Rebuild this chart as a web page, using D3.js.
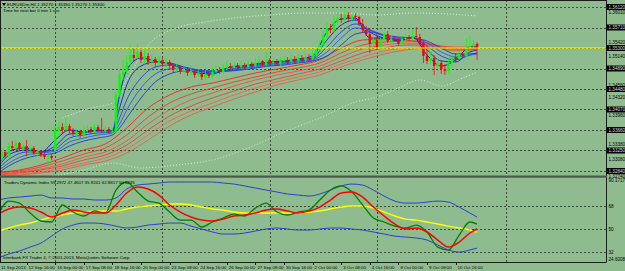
<!DOCTYPE html>
<html><head><meta charset="utf-8">
<script src="https://cdn.jsdelivr.net/npm/d3@7"></script>
<style>
body{margin:0;background:#8fbc8f;}
svg{display:block;font-family:"Liberation Sans",Arial,sans-serif;}
</style></head><body>
<svg id="chart" width="625" height="271"></svg>
<script>
// EURUSDm H4, bar 0 = 11 Sep 2013 08:00
var open = [1.3286,1.3306,1.3322,1.3314,1.3334,1.3330,1.3340,1.3328,1.3334,1.3326,
 1.3330,1.3320,1.3324,1.3316,1.3312,1.3314,1.3326,1.3366,1.3372,1.3366,
 1.3374,1.3364,1.3358,1.3362,1.3356,1.3366,1.3368,1.3362,1.3372,1.3366,
 1.3364,1.3368,1.3362,1.3364,1.3436,1.3476,1.3482,1.3502,1.3516,1.3510,
 1.3522,1.3506,1.3514,1.3502,1.3508,1.3500,1.3506,1.3498,1.3502,1.3494,
 1.3486,1.3490,1.3484,1.3488,1.3480,1.3484,1.3476,1.3480,1.3472,1.3478,
 1.3474,1.3482,1.3486,1.3482,1.3490,1.3494,1.3490,1.3496,1.3492,1.3496,
 1.3492,1.3498,1.3494,1.3500,1.3504,1.3496,1.3506,1.3500,1.3502,1.3498,
 1.3504,1.3506,1.3502,1.3508,1.3504,1.3510,1.3506,1.3512,1.3508,1.3516,
 1.3526,1.3536,1.3556,1.3570,1.3566,1.3582,1.3590,1.3586,1.3596,1.3588,
 1.3594,1.3592,1.3578,1.3566,1.3558,1.3538,1.3546,1.3530,1.3546,1.3558,
 1.3544,1.3548,1.3546,1.3538,1.3548,1.3550,1.3548,1.3554,1.3552,1.3540,
 1.3514,1.3504,1.3510,1.3494,1.3500,1.3488,1.3484,1.3500,1.3512,1.3508,
 1.3518,1.3514,1.3530,1.3534,1.3538];
var high = [1.3310,1.3330,1.3326,1.3340,1.3344,1.3346,1.3342,1.3338,1.3346,1.3336,
 1.3334,1.3328,1.3326,1.3322,1.3320,1.3318,1.3374,1.3382,1.3380,1.3392,
 1.3378,1.3370,1.3368,1.3366,1.3374,1.3376,1.3372,1.3378,1.3376,1.3390,
 1.3374,1.3372,1.3370,1.3442,1.3486,1.3506,1.3516,1.3536,1.3530,1.3538,
 1.3526,1.3530,1.3520,1.3516,1.3512,1.3514,1.3510,1.3510,1.3506,1.3500,
 1.3498,1.3494,1.3496,1.3492,1.3494,1.3488,1.3486,1.3484,1.3486,1.3482,
 1.3490,1.3494,1.3492,1.3498,1.3504,1.3500,1.3502,1.3500,1.3504,1.3500,
 1.3506,1.3502,1.3510,1.3514,1.3506,1.3522,1.3510,1.3510,1.3508,1.3512,
 1.3514,1.3512,1.3516,1.3514,1.3518,1.3516,1.3520,1.3518,1.3526,1.3534,
 1.3546,1.3566,1.3582,1.3578,1.3594,1.3602,1.3598,1.3606,1.3602,1.3598,
 1.3600,1.3594,1.3588,1.3574,1.3570,1.3552,1.3560,1.3550,1.3562,1.3564,
 1.3554,1.3554,1.3552,1.3554,1.3558,1.3556,1.3566,1.3572,1.3558,1.3546,
 1.3534,1.3522,1.3516,1.3510,1.3506,1.3498,1.3506,1.3518,1.3520,1.3524,
 1.3522,1.3550,1.3554,1.3546,1.3542];
var low = [1.3282,1.3300,1.3310,1.3310,1.3324,1.3326,1.3324,1.3322,1.3314,1.3310,
 1.3316,1.3314,1.3312,1.3308,1.3296,1.3306,1.3322,1.3356,1.3360,1.3362,
 1.3360,1.3354,1.3352,1.3350,1.3354,1.3360,1.3358,1.3360,1.3362,1.3360,
 1.3360,1.3358,1.3358,1.3360,1.3432,1.3466,1.3478,1.3494,1.3502,1.3506,
 1.3500,1.3500,1.3496,1.3494,1.3492,1.3494,1.3492,1.3492,1.3488,1.3480,
 1.3482,1.3478,1.3480,1.3474,1.3476,1.3470,1.3472,1.3466,1.3468,1.3470,
 1.3470,1.3476,1.3478,1.3480,1.3486,1.3486,1.3486,1.3488,1.3488,1.3486,
 1.3488,1.3490,1.3492,1.3494,1.3492,1.3492,1.3494,1.3496,1.3494,1.3494,
 1.3500,1.3498,1.3498,1.3500,1.3500,1.3502,1.3502,1.3504,1.3506,1.3512,
 1.3522,1.3532,1.3550,1.3560,1.3562,1.3576,1.3580,1.3582,1.3582,1.3582,
 1.3584,1.3574,1.3560,1.3554,1.3520,1.3534,1.3526,1.3528,1.3542,1.3540,
 1.3540,1.3542,1.3534,1.3536,1.3544,1.3544,1.3544,1.3546,1.3536,1.3500,
 1.3498,1.3498,1.3476,1.3490,1.3478,1.3476,1.3480,1.3494,1.3502,1.3506,
 1.3510,1.3512,1.3524,1.3530,1.3506];
var close = [1.3306,1.3322,1.3314,1.3334,1.3330,1.3340,1.3328,1.3334,1.3326,1.3330,
 1.3320,1.3324,1.3316,1.3312,1.3314,1.3310,1.3366,1.3372,1.3366,1.3374,
 1.3364,1.3358,1.3362,1.3356,1.3366,1.3368,1.3362,1.3372,1.3366,1.3364,
 1.3368,1.3362,1.3364,1.3436,1.3476,1.3482,1.3502,1.3516,1.3510,1.3522,
 1.3506,1.3514,1.3502,1.3508,1.3500,1.3506,1.3498,1.3502,1.3494,1.3486,
 1.3490,1.3484,1.3488,1.3480,1.3484,1.3476,1.3480,1.3472,1.3478,1.3474,
 1.3482,1.3486,1.3482,1.3490,1.3494,1.3490,1.3496,1.3492,1.3496,1.3492,
 1.3498,1.3494,1.3500,1.3504,1.3496,1.3506,1.3500,1.3502,1.3498,1.3504,
 1.3506,1.3502,1.3508,1.3504,1.3510,1.3506,1.3512,1.3508,1.3516,1.3526,
 1.3536,1.3556,1.3570,1.3566,1.3582,1.3590,1.3586,1.3596,1.3588,1.3594,
 1.3592,1.3578,1.3566,1.3558,1.3538,1.3546,1.3530,1.3546,1.3558,1.3544,
 1.3548,1.3546,1.3538,1.3548,1.3550,1.3548,1.3554,1.3552,1.3540,1.3514,
 1.3504,1.3510,1.3494,1.3500,1.3488,1.3484,1.3500,1.3512,1.3508,1.3518,
 1.3514,1.3530,1.3534,1.3538,1.3530];
var bidPrice = 1.3530;

// fast moving averages (blue), read at these bars
var blueBars = [0,4,8,12,16,20,24,28,32,34,36,40,44,48,52,56,60,64,68,72,76,80,84,88,92,96,100,104,108,112,116,120,124,128,132,134];
var blue1 = [1.3296,1.3326,1.3330,1.3322,1.3346,1.3366,1.3362,1.3366,1.3364,1.3436,1.3486,1.3510,1.3504,1.3498,1.3488,1.3480,1.3478,1.3490,1.3494,1.3498,1.3502,1.3504,1.3508,1.3514,1.3562,1.3588,1.3590,1.3550,1.3550,1.3544,1.3552,1.3516,1.3494,1.3506,1.3532,1.3532];
var blue2 = [1.3292,1.3320,1.3326,1.3322,1.3334,1.3358,1.3360,1.3364,1.3364,1.3410,1.3456,1.3494,1.3502,1.3500,1.3492,1.3484,1.3480,1.3486,1.3492,1.3496,1.3500,1.3502,1.3506,1.3510,1.3546,1.3576,1.3586,1.3562,1.3550,1.3546,1.3550,1.3526,1.3504,1.3502,1.3522,1.3526];
var blue3 = [1.3288,1.3312,1.3322,1.3322,1.3328,1.3350,1.3356,1.3360,1.3362,1.3390,1.3426,1.3470,1.3492,1.3496,1.3492,1.3486,1.3482,1.3484,1.3490,1.3494,1.3498,1.3500,1.3504,1.3508,1.3532,1.3562,1.3578,1.3566,1.3554,1.3548,1.3550,1.3534,1.3514,1.3506,1.3516,1.3520];
var blue4 = [1.3284,1.3304,1.3316,1.3320,1.3324,1.3342,1.3350,1.3356,1.3360,1.3378,1.3406,1.3450,1.3478,1.3488,1.3490,1.3486,1.3484,1.3484,1.3488,1.3492,1.3496,1.3498,1.3502,1.3506,1.3522,1.3550,1.3570,1.3566,1.3556,1.3550,1.3550,1.3540,1.3522,1.3512,1.3516,1.3518];
var blue5 = [1.3280,1.3298,1.3310,1.3316,1.3320,1.3334,1.3344,1.3350,1.3356,1.3370,1.3390,1.3430,1.3462,1.3478,1.3484,1.3484,1.3484,1.3484,1.3486,1.3490,1.3494,1.3496,1.3500,1.3504,1.3514,1.3536,1.3558,1.3562,1.3556,1.3552,1.3550,1.3544,1.3530,1.3518,1.3518,1.3520];

// slow moving averages (red)
var redBars = [0,6,12,18,24,30,36,42,48,54,60,66,72,78,84,90,96,102,108,114,120,126,132,134];
var red1 = [1.3282,1.3286,1.3296,1.3310,1.3326,1.3338,1.3370,1.3410,1.3436,1.3452,1.3460,1.3470,1.3480,1.3488,1.3496,1.3506,1.3530,1.3546,1.3548,1.3546,1.3540,1.3526,1.3526,1.3528];
var red2 = [1.3280,1.3284,1.3292,1.3304,1.3318,1.3330,1.3356,1.3392,1.3420,1.3438,1.3450,1.3462,1.3472,1.3482,1.3490,1.3500,1.3520,1.3536,1.3542,1.3544,1.3540,1.3530,1.3528,1.3530];
var red3 = [1.3278,1.3282,1.3288,1.3298,1.3312,1.3322,1.3344,1.3378,1.3406,1.3426,1.3440,1.3454,1.3466,1.3476,1.3484,1.3494,1.3512,1.3528,1.3536,1.3540,1.3538,1.3532,1.3530,1.3530];
var red4 = [1.3276,1.3280,1.3286,1.3294,1.3306,1.3316,1.3336,1.3366,1.3394,1.3414,1.3430,1.3444,1.3458,1.3468,1.3478,1.3488,1.3504,1.3520,1.3530,1.3536,1.3536,1.3532,1.3530,1.3532];
var red5 = [1.3274,1.3278,1.3282,1.3290,1.3300,1.3310,1.3328,1.3356,1.3384,1.3404,1.3420,1.3436,1.3450,1.3462,1.3472,1.3482,1.3498,1.3512,1.3524,1.3530,1.3532,1.3532,1.3532,1.3532];
var red6 = [1.3272,1.3276,1.3280,1.3286,1.3296,1.3304,1.3320,1.3346,1.3374,1.3396,1.3412,1.3428,1.3442,1.3456,1.3466,1.3476,1.3492,1.3506,1.3518,1.3526,1.3530,1.3530,1.3532,1.3532];

// dotted bands
var upperBars = [18,26,32,36,42,50,58,66,76,86,96,106,116,126,134];
var upperBand = [1.3390,1.3410,1.3420,1.3466,1.3536,1.3570,1.3582,1.3590,1.3596,1.3600,1.3600,1.3596,1.3600,1.3598,1.3594];
var lowerBars = [16,24,32,40,50,60,70,80,90,100,106,112,118,124,130,134];
var lowerBand = [1.3274,1.3286,1.3300,1.3290,1.3296,1.3306,1.3330,1.3362,1.3390,1.3422,1.3432,1.3450,1.3466,1.3454,1.3470,1.3482];

// Traders Dynamic Index
var tdiBars = [0,3,6,9,12,15,18,21,24,27,30,33,36,39,42,45,48,51,54,57,60,63,66,69,72,75,78,81,84,87,90,93,96,99,102,105,108,111,114,117,120,123,126,129,132,134];
var tdiPrice = [61.0,71.9,70.3,62.5,56.3,55.5,68.8,63.3,60.2,64.1,62.5,80.5,86.8,79.0,71.9,70.3,63.3,57.0,57.0,51.6,55.5,58.6,61.7,60.2,66.4,70.3,63.3,61.0,63.3,64.9,72.7,80.5,83.7,79.0,68.8,58.6,55.5,52.3,50.8,53.1,47.7,35.9,33.6,45.3,55.5,53.9];
var tdiSignal = [61.7,65.7,67.2,66.4,63.3,59.4,62.5,64.9,63.3,62.5,62.5,68.8,78.2,82.9,81.3,76.6,68.8,63.3,59.4,57.0,56.3,57.8,60.2,61.0,62.5,64.9,65.7,64.1,62.5,64.1,67.2,72.7,78.2,79.0,75.0,67.2,60.2,53.9,50.0,50.8,47.7,41.4,35.9,39.8,46.9,50.0];
var tdiBase = [48.4,50.8,53.1,54.7,57.0,59.4,61.0,62.5,63.3,64.1,64.1,64.1,65.7,67.2,68.0,68.8,69.6,69.6,68.8,67.2,65.7,64.9,63.3,62.5,62.5,62.5,62.5,62.5,62.5,63.3,64.1,65.7,67.2,68.0,68.0,66.4,63.3,60.2,57.8,57.0,55.5,53.9,52.3,50.8,49.2,47.7];
var tdiUpper = [72.7,74.3,75.0,75.8,76.6,74.3,74.3,73.5,73.5,72.7,72.7,74.3,81.3,84.4,85.2,86.0,86.8,86.8,86.8,86.8,86.8,86.0,85.2,83.7,82.1,80.5,79.0,77.4,76.6,75.8,77.4,80.5,83.7,85.2,84.4,80.5,75.8,71.9,70.3,70.3,71.1,71.9,71.1,67.2,62.5,59.4];
var tdiLower = [27.3,30.4,32.8,35.9,39.0,44.5,50.0,53.1,54.7,54.7,53.9,52.3,50.8,51.6,53.1,53.9,54.7,54.7,52.3,50.0,47.7,46.1,46.1,46.9,48.4,50.0,50.8,50.0,49.2,49.2,50.0,50.8,50.8,50.0,49.2,47.7,46.1,44.5,43.7,43.0,41.4,37.5,33.6,32.0,33.6,35.1];
var tdiLevels = [68, 50, 32];
var tdiRange = [24.6008, 90.1717];

// axes
var gridPrices = [1.3612,1.3571,1.3530,1.3489,1.3448,1.3407,1.3366,1.3325,1.3284];
var sidePrices = [1.3601,1.3542,1.3514,1.3456,1.3432,1.3396,1.3338,1.3308,1.3274];
var weekBars = [16,46,76,106,142];
var tickBars = [0,8,16,24,32,40,48,56,64,72,80,88,96,104,112,120,128];
var tickLabels = ["11 Sep 2013","12 Sep 16:00","16 Sep 00:00","17 Sep 08:00","18 Sep 16:00","20 Sep 00:00","23 Sep 08:00","24 Sep 16:00","26 Sep 00:00","27 Sep 08:00","30 Sep 16:00","2 Oct 00:00","3 Oct 08:00","4 Oct 16:00","8 Oct 00:00","9 Oct 08:00","10 Oct 16:00"];

var W = 625, H = 271, plotR = 606;
var mainBot = 176, indTop = 178, indBot = 262;

var svg = d3.select("#chart");
svg.append("rect").attr("width", W).attr("height", H).attr("fill", "#8fbc8f");

var x = d3.scaleLinear().domain([0, 134]).range([-2, -2 + 134 * 3.575]);
var y = d3.scaleLinear().domain([1.3626, 1.3274]).range([0, mainBot]);
var yi = d3.scaleLinear().domain(tdiRange).range([261.5, 177.7]);

var defs = svg.append("defs");
defs.append("clipPath").attr("id", "clipMain").append("rect")
  .attr("x", 0).attr("y", 0).attr("width", plotR).attr("height", mainBot);
defs.append("clipPath").attr("id", "clipInd").append("rect")
  .attr("x", 0).attr("y", indTop).attr("width", plotR).attr("height", indBot - indTop);

var gridCol = "#3b4d3b";
var main = svg.append("g").attr("clip-path", "url(#clipMain)");
var ind = svg.append("g").attr("clip-path", "url(#clipInd)");

// grid
main.selectAll(".hg").data(gridPrices).enter().append("line")
  .attr("x1", 0).attr("x2", plotR)
  .attr("y1", function(d) { return Math.round(y(d)) + 0.5; })
  .attr("y2", function(d) { return Math.round(y(d)) + 0.5; })
  .attr("stroke", gridCol).attr("stroke-dasharray", "2,2");
[main, ind].forEach(function(g) {
  g.selectAll(".vg").data(weekBars).enter().append("line")
    .attr("x1", function(d) { return Math.round(x(d)) + 0.5; })
    .attr("x2", function(d) { return Math.round(x(d)) + 0.5; })
    .attr("y1", 0).attr("y2", indBot)
    .attr("stroke", gridCol).attr("stroke-dasharray", "2,2");
});
ind.selectAll(".ig").data(tdiLevels).enter().append("line")
  .attr("x1", 0).attr("x2", plotR)
  .attr("y1", function(d) { return Math.round(yi(d)) + 0.5; })
  .attr("y2", function(d) { return Math.round(yi(d)) + 0.5; })
  .attr("stroke", gridCol).attr("stroke-dasharray", "2,2");

function pts(b, v) { return b.map(function(d, k) { return [d, v[k]]; }); }
var pline = d3.line().x(function(d) { return x(d[0]); }).y(function(d) { return y(d[1]); }).curve(d3.curveMonotoneX);
var iline = d3.line().x(function(d) { return x(d[0]); }).y(function(d) { return yi(d[1]); }).curve(d3.curveMonotoneX);

// dotted bands
[upperBand, lowerBand].forEach(function(v, k) {
  main.append("path").attr("d", pline(pts(k ? lowerBars : upperBars, v)))
    .attr("fill", "none").attr("stroke", "#e6eee6").attr("stroke-width", 0.9)
    .attr("stroke-dasharray", "1,2");
});

// red bundle
var redCols = ["#ff2020", "#f03a2a", "#ff4a3a", "#e84040", "#ff5a48", "#e85a50"];
[red1, red2, red3, red4, red5, red6].forEach(function(v, k) {
  main.append("path").attr("d", pline(pts(redBars, v)))
    .attr("fill", "none").attr("stroke", redCols[k]).attr("stroke-width", 0.9);
});
// blue bundle
var blueCols = ["#0000ee", "#1020e0", "#2040f0", "#3050ff", "#1a3ad8"];
[blue1, blue2, blue3, blue4, blue5].forEach(function(v, k) {
  main.append("path").attr("d", pline(pts(blueBars, v)))
    .attr("fill", "none").attr("stroke", blueCols[k]).attr("stroke-width", 0.9);
});

// candles
var bars = open.map(function(o, i) { return { i: i, o: o, h: high[i], l: low[i], c: close[i] }; });
var cg = main.selectAll(".bar").data(bars).enter().append("g");
cg.append("line")
  .attr("x1", function(d) { return x(d.i); }).attr("x2", function(d) { return x(d.i); })
  .attr("y1", function(d) { return y(d.h); }).attr("y2", function(d) { return y(d.l); })
  .attr("stroke", function(d) { return d.c >= d.o ? "#00ff00" : "#ff0000"; })
  .attr("stroke-width", 0.8);
cg.append("rect")
  .attr("x", function(d) { return x(d.i) - 1.2; }).attr("width", 2.4)
  .attr("y", function(d) { return y(Math.max(d.o, d.c)); })
  .attr("height", function(d) { return Math.max(1, Math.abs(y(d.o) - y(d.c))); })
  .attr("fill", function(d) { return d.c >= d.o ? "#00ff00" : "#ff0000"; });

// bid line
main.append("line").attr("x1", 0).attr("x2", plotR)
  .attr("y1", y(bidPrice)).attr("y2", y(bidPrice))
  .attr("stroke", "#ffff00").attr("stroke-width", 1);

// TDI
[[tdiUpper, "#2b3fd0", 1], [tdiLower, "#2b3fd0", 1], [tdiBase, "#ffff00", 1.4],
 [tdiPrice, "#008000", 1.3], [tdiSignal, "#ff0000", 1.5]].forEach(function(s) {
  ind.append("path").attr("d", iline(pts(tdiBars, s[0])))
    .attr("fill", "none").attr("stroke", s[1]).attr("stroke-width", s[2]);
});

// frames
var frame = "#1c1c1c";
svg.append("line").attr("x1", 0).attr("x2", plotR + 0.5).attr("y1", 0.5).attr("y2", 0.5).attr("stroke", frame);
svg.append("line").attr("x1", 0.5).attr("x2", 0.5).attr("y1", 0).attr("y2", indBot).attr("stroke", frame);
svg.append("line").attr("x1", plotR + 0.5).attr("x2", plotR + 0.5).attr("y1", 0).attr("y2", indBot).attr("stroke", frame);
svg.append("rect").attr("x", 0).attr("y", mainBot - 0.5).attr("width", plotR + 1).attr("height", 2.2).attr("fill", "#4a5a4a");
svg.append("line").attr("x1", 0).attr("x2", plotR + 0.5).attr("y1", indBot + 0.5).attr("y2", indBot + 0.5).attr("stroke", frame);

// right price scale
var fs = 4.6;
var ax = svg.append("g").attr("font-size", fs);
ax.selectAll(".pl").data(sidePrices).enter().append("text")
  .attr("x", 608.5).attr("y", function(d) { return y(d) + 1.6; })
  .attr("fill", "#000").text(function(d) { return d3.format(".5f")(d); });
gridPrices.concat([bidPrice]).forEach(function(p) {
  var yy = y(p);
  ax.append("rect").attr("x", 606.5).attr("y", yy - 3).attr("width", 18.5).attr("height", 6).attr("fill", "#000");
  ax.append("text").attr("x", 608.5).attr("y", yy + 1.6).attr("fill", "#dcdcdc").text(d3.format(".5f")(p));
});
ax.selectAll(".tk").data(gridPrices).enter().append("line")
  .attr("x1", plotR).attr("x2", plotR + 2)
  .attr("y1", function(d) { return Math.round(y(d)) + 0.5; })
  .attr("y2", function(d) { return Math.round(y(d)) + 0.5; })
  .attr("stroke", frame);

// TDI scale
ax.append("text").attr("x", 608.5).attr("y", yi(tdiRange[1]) + 4.2).text(d3.format(".4f")(tdiRange[1]));
ax.append("text").attr("x", 608.5).attr("y", yi(tdiRange[0]) - 0.3).text(d3.format(".4f")(tdiRange[0]));
ax.selectAll(".il").data(tdiLevels).enter().append("text")
  .attr("x", 608.5).attr("y", function(d) { return yi(d) + 1.6; }).text(function(d) { return d; });

// time axis
ax.selectAll(".tt").data(tickBars).enter().append("line")
  .attr("x1", function(d) { return Math.round(x(d)) + 0.5; })
  .attr("x2", function(d) { return Math.round(x(d)) + 0.5; })
  .attr("y1", indBot).attr("y2", indBot + 3).attr("stroke", frame);
ax.selectAll(".tl").data(tickBars).enter().append("text")
  .attr("x", function(d) { return Math.max(1, x(d) + 2); }).attr("y", 268.8)
  .attr("font-size", 4.4)
  .text(function(d, k) { return tickLabels[k]; });

// captions
var cap = svg.append("g").attr("font-size", 4.4).attr("fill", "#000");
cap.append("path").attr("d", "M2,3 L6,3 L4,6 Z").attr("fill", "#000");
cap.append("text").attr("x", 7).attr("y", 6.2).text("EURUSDm,H4  1.35270 1.35350 1.35270 1.35300");
cap.append("text").attr("x", 3).attr("y", 12).text("Time for next bar 0 min 1 sec");
cap.append("text").attr("x", 4).attr("y", 184).text("Traders Dynamic Index 59.2972 47.4607 35.9241 62.8817 50.6235");
cap.append("text").attr("x", 3).attr("y", 259).text("Interbank FX Trader 4, \u00a9 2001-2013, MetaQuotes Software Corp.");
</script>
</body></html>
